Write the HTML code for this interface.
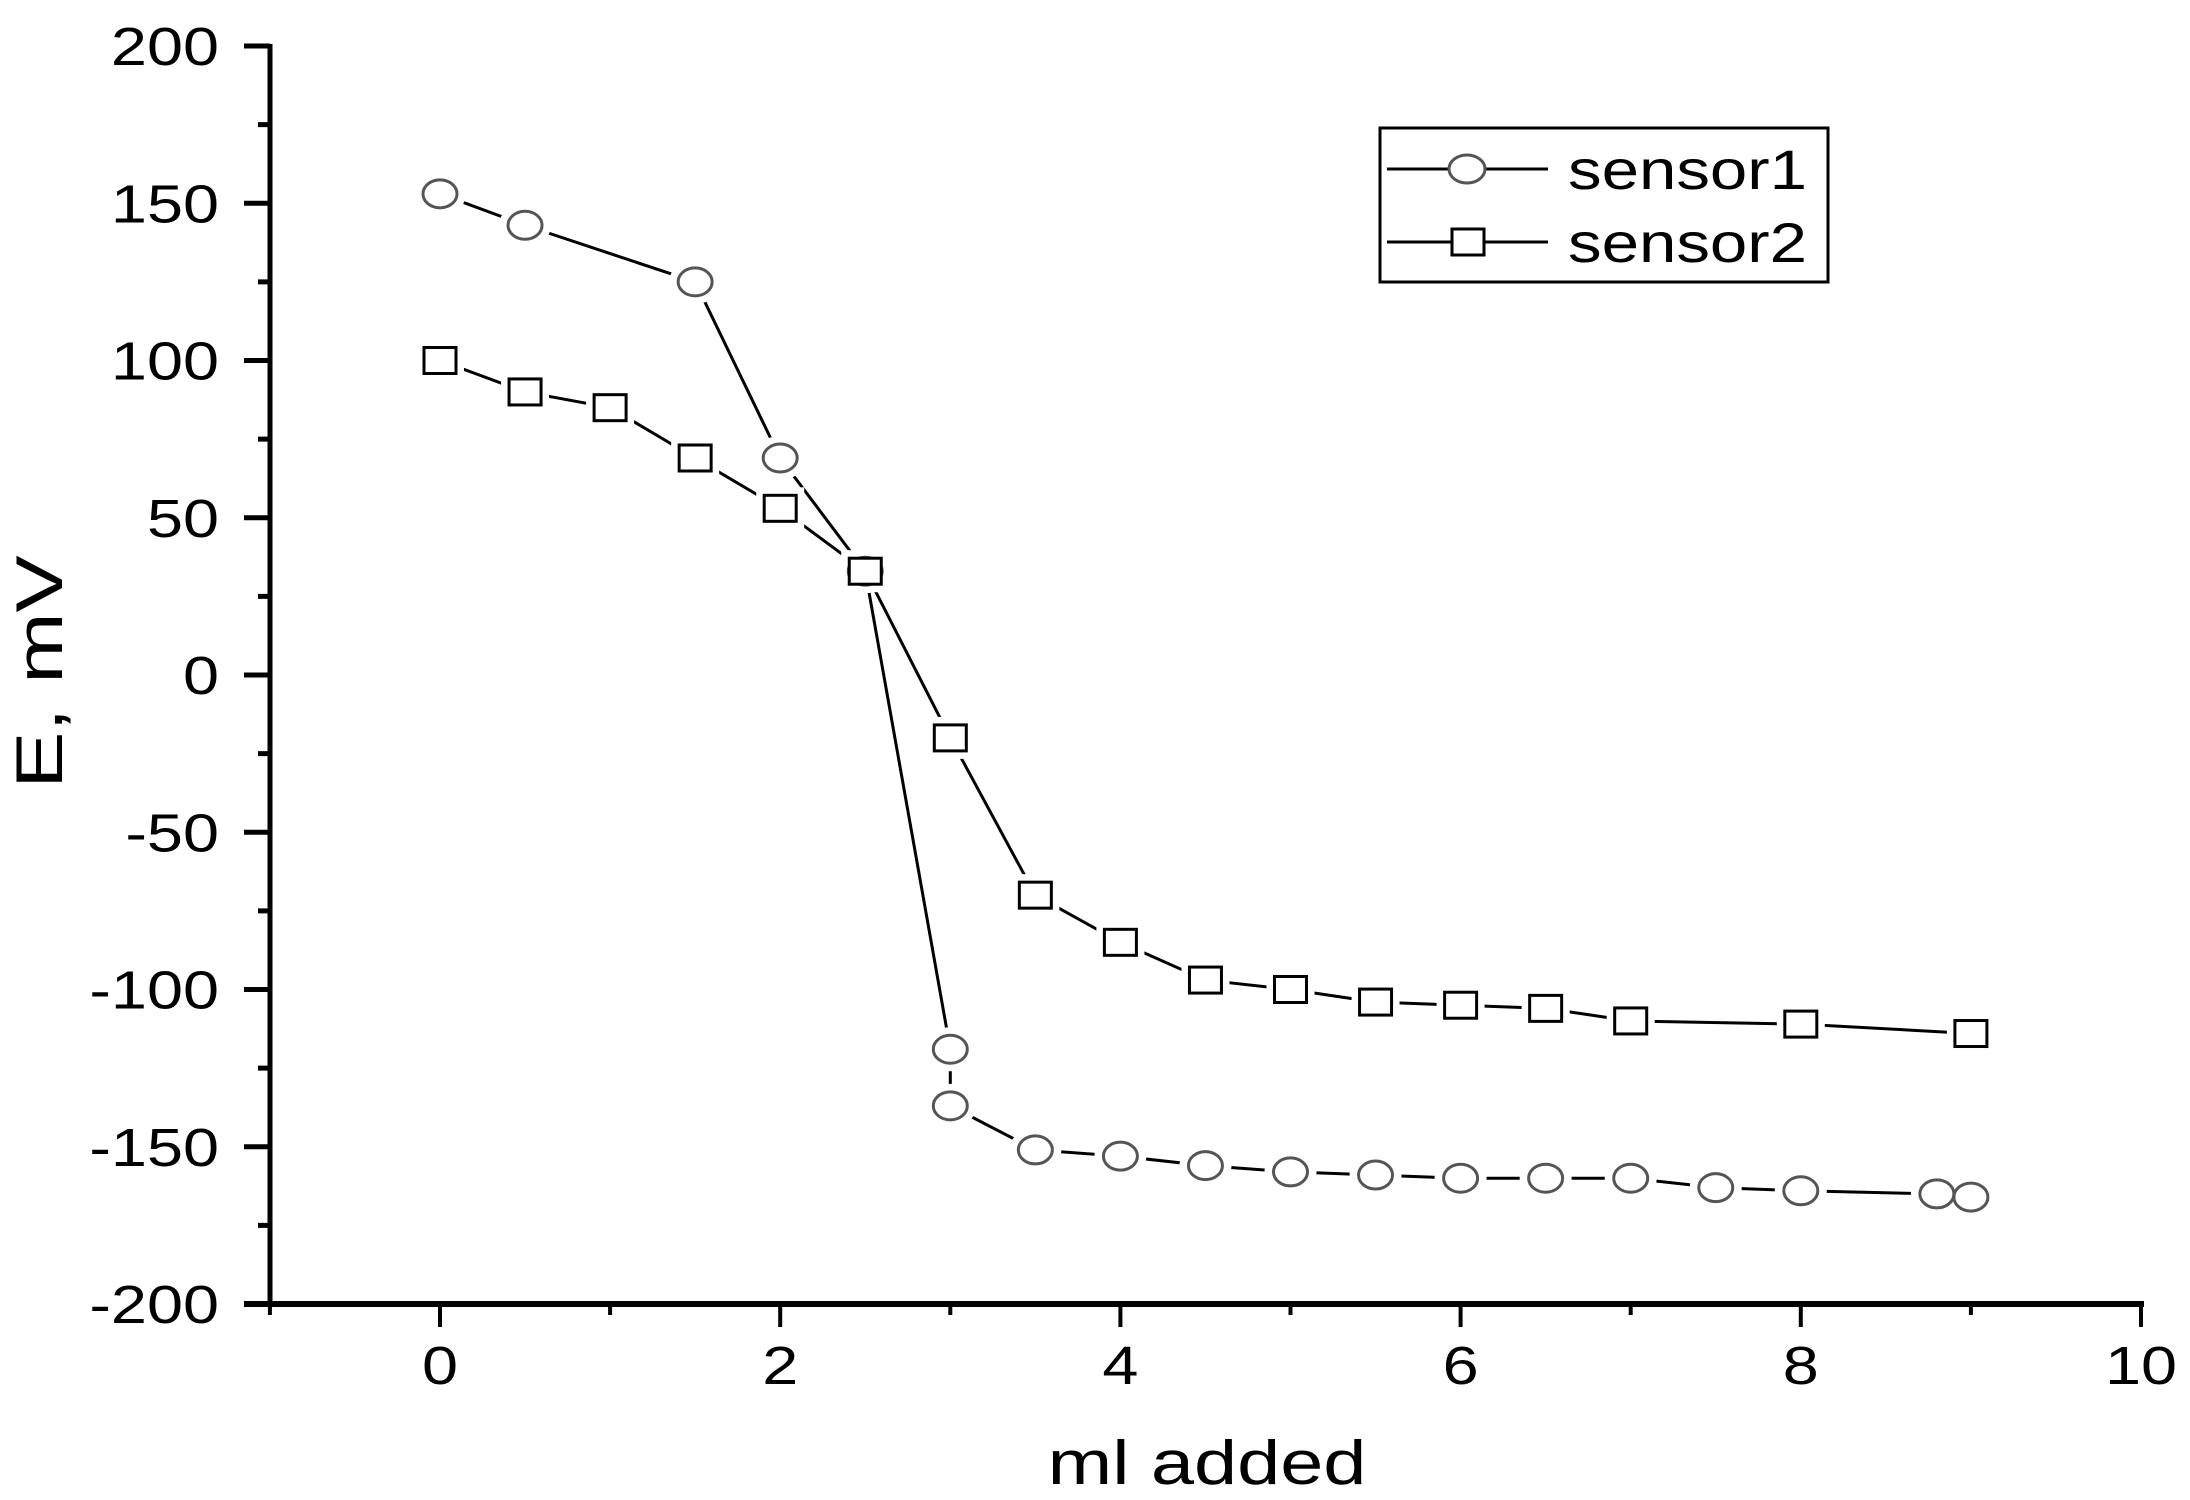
<!DOCTYPE html>
<html><head><meta charset="utf-8"><style>
html,body{margin:0;padding:0;background:#fff;}
svg{display:block;}
text{font-family:"Liberation Sans",Arial,sans-serif;fill:#000;}
</style></head><body>
<svg width="2190" height="1500" viewBox="0 0 2190 1500" xmlns="http://www.w3.org/2000/svg">
<g id="axes" stroke="#000" stroke-linecap="butt">
<line x1="270" y1="44" x2="270" y2="1305" stroke-width="5"/>
<line x1="244" y1="1304" x2="2144" y2="1304" stroke-width="6"/>
</g>
<g id="yt" stroke="#000" stroke-width="5"></g>
<g id="xt" stroke="#000" stroke-width="4"></g>
<g id="ylab" font-size="54" text-anchor="end"></g>
<g id="xlab" font-size="54" text-anchor="middle"></g>
<text x="0" y="0" font-size="66" text-anchor="middle" transform="translate(62,672) rotate(-90) scale(1.3,1)">E, mV</text>
<text x="0" y="0" font-size="62" text-anchor="middle" transform="translate(1207,1484) scale(1.25,1)">ml added</text>
<g id="s1l" fill="none" stroke="#000" stroke-width="3"></g>
<g id="s2l" fill="none" stroke="#000" stroke-width="3"></g>
<g id="m"></g>
<rect x="1380" y="128" width="448" height="154" fill="none" stroke="#000" stroke-width="3"/>
<line x1="1387" y1="169" x2="1548" y2="169" stroke="#000" stroke-width="3"/>
<ellipse cx="1467" cy="169" rx="18" ry="14" fill="#fff" stroke="#555" stroke-width="3"/>
<line x1="1387" y1="242" x2="1548" y2="242" stroke="#000" stroke-width="3"/>
<rect x="1452" y="229" width="32" height="26" fill="#fff" stroke="#000" stroke-width="3"/>
<text x="0" y="0" font-size="56" transform="translate(1568,189) scale(1.2,1)">sensor1</text>
<text x="0" y="0" font-size="56" transform="translate(1568,262) scale(1.2,1)">sensor2</text>
</svg>
<script>
var NS="http://www.w3.org/2000/svg";
function X(v){return 440+170.1*v;}function Y(v){return 675-3.145*v;}
function el(p,t,a){var e=document.createElementNS(NS,t);for(var k in a)e.setAttribute(k,a[k]);document.getElementById(p).appendChild(e);return e;}
for(var v=-200;v<=200;v+=25){var maj=v%50==0;el("yt","line",{x1:maj?244:258,x2:270,y1:Y(v),y2:Y(v)});
if(maj){var t=el("ylab","text",{x:0,y:0,transform:"translate(219,"+(Y(v)+19)+") scale(1.2,1)"});t.textContent=v;}}
for(var v=-1;v<=10;v+=1){var maj=(v%2==0);el("xt","line",{x1:X(v),x2:X(v),y1:1304,y2:maj?1327:1315});
if(maj){var t=el("xlab","text",{x:0,y:0,transform:"translate("+X(v)+",1384) scale(1.2,1)"});t.textContent=v;}}
var s1=[[0,153],[0.5,143],[1.5,125],[2,69],[2.5,33],[3,-119],[3,-137],[3.5,-151],[4,-153],[4.5,-156],[5,-158],[5.5,-159],[6,-160],[6.5,-160],[7,-160],[7.5,-163],[8,-164],[8.8,-165],[9,-166]];
var s2=[[0,100],[0.5,90],[1,85],[1.5,69],[2,53],[2.5,33],[3,-20],[3.5,-70],[4,-85],[4.5,-97],[5,-100],[5.5,-104],[6,-105],[6.5,-106],[7,-110],[8,-111],[9,-114]];
el("s1l","polyline",{points:s1.map(function(p){return X(p[0])+","+Y(p[1]);}).join(" ")});
el("s2l","polyline",{points:s2.map(function(p){return X(p[0])+","+Y(p[1]);}).join(" ")});
s1.forEach(function(p){el("m","ellipse",{cx:X(p[0]),cy:Y(p[1]),rx:26,ry:22,fill:"#fff",stroke:"none"});});
s2.forEach(function(p){el("m","rect",{x:X(p[0])-24,y:Y(p[1])-21,width:48,height:42,fill:"#fff",stroke:"none"});});
s1.forEach(function(p){el("m","ellipse",{cx:X(p[0]),cy:Y(p[1]),rx:17,ry:14,fill:"#fff",stroke:"#555",'stroke-width':3});});
s2.forEach(function(p){el("m","rect",{x:X(p[0])-16,y:Y(p[1])-13,width:32,height:26,fill:"#fff",stroke:"#000",'stroke-width':3});});
</script>
</body></html>
